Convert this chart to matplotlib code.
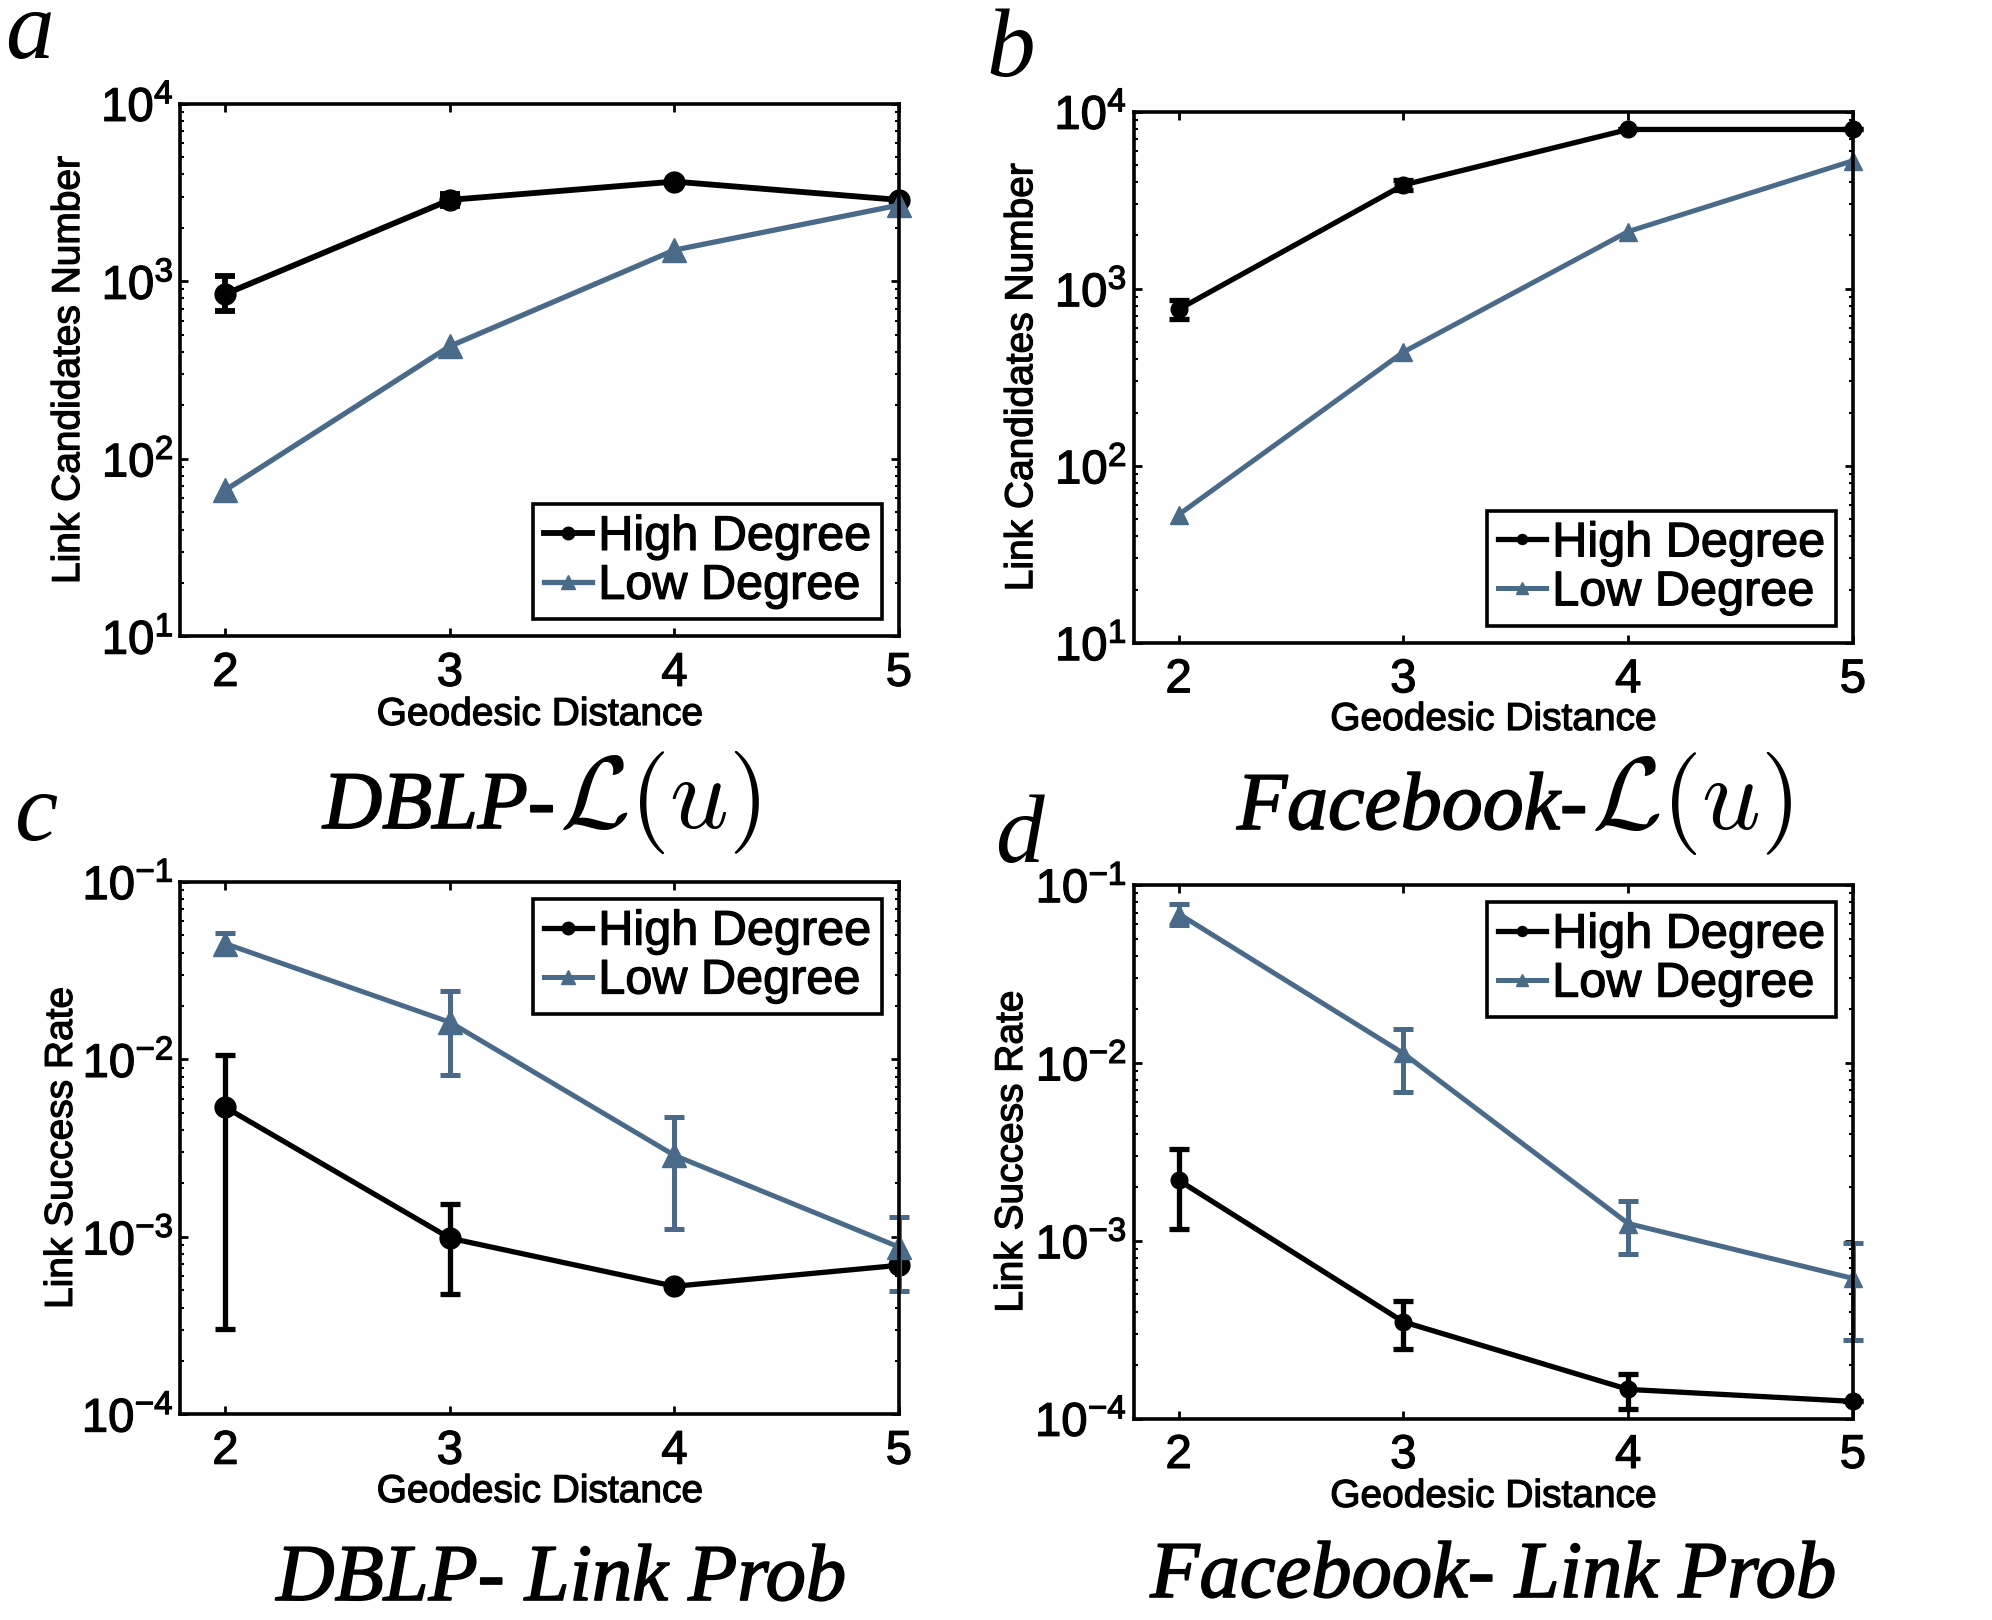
import numpy as np
import matplotlib
matplotlib.use("Agg")
import matplotlib.pyplot as plt
import matplotlib.patheffects as pe
from matplotlib.ticker import NullFormatter, LogLocator

plt.rcParams["font.family"] = ["Liberation Sans", "DejaVu Sans"]
plt.rcParams["mathtext.fontset"] = "cm"

BLUE = "#4a6a8a"
THICK = [pe.withStroke(linewidth=0.9, foreground="black")]

# Geodesic distance (x axis of all panels)
distance = [2, 3, 4, 5]

# a: DBLP link candidates number
dblp_cand_high = [848, 2873, 3642, 2873]
dblp_cand_high_lo = [678, 2650, 3642, 2873]
dblp_cand_high_hi = [1070, 3100, 3642, 2873]
dblp_cand_low = [66.8, 431, 1499, 2684]

# b: Facebook link candidates number
fb_cand_high = [765, 3853, 7930, 7930]
fb_cand_high_lo = [676, 3600, 7930, 7930]
fb_cand_high_hi = [867, 4100, 7930, 7930]
fb_cand_low = [53, 439, 2104, 5283]

# c: DBLP link success rate
dblp_prob_high = [0.00537, 0.000984, 0.000527, 0.000692]
dblp_prob_high_lo = [0.000302, 0.000476, 0.000527, 0.000692]
dblp_prob_high_hi = [0.01064, 0.00153, 0.000527, 0.000692]
dblp_prob_low = [0.0449, 0.0162, 0.00288, 0.000877]
dblp_prob_low_lo = [0.0392, 0.00822, 0.00111, 0.000499]
dblp_prob_low_hi = [0.0514, 0.0244, 0.00472, 0.00129]

# d: Facebook link success rate
fb_prob_high = [0.00219, 0.00035, 0.000146, 0.000125]
fb_prob_high_lo = [0.00117, 0.000246, 0.000113, 0.000125]
fb_prob_high_hi = [0.00327, 0.000459, 0.000179, 0.000125]
fb_prob_low = [0.0689, 0.0113, 0.00125, 0.000614]
fb_prob_low_lo = [0.0594, 0.00689, 0.000843, 0.000276]
fb_prob_low_hi = [0.0778, 0.0155, 0.00168, 0.000966]


def draw_series(ax, y, lo, hi, color, marker, ms, label, lw):
    y = np.array(y)
    if lo is not None:
        yerr = [y - np.array(lo), np.array(hi) - y]
        eb = ax.errorbar(distance, y, yerr=yerr, fmt="none", ecolor=color,
                         elinewidth=lw, capsize=7, capthick=lw)
        for part in eb.lines[1] + eb.lines[2]:
            part.set_clip_on(False)
    line, = ax.plot(distance, y, color=color, lw=lw, marker=marker, ms=ms,
                    label=label, clip_on=False)
    return line


def setup_axes(ax, ylim, ylabel, ylab_x, xlab_y, leg_loc):
    ax.set_yscale("log")
    ax.set_ylim(*ylim)
    ax.set_xlim(1.8, 5)
    ax.set_xticks(distance)
    ax.yaxis.set_minor_locator(LogLocator(base=10, subs=np.arange(2, 10)))
    ax.yaxis.set_minor_formatter(NullFormatter())
    ax.tick_params(which="both", direction="in", top=True, right=True,
                   labelsize=34, width=2)
    ax.tick_params(axis="x", which="major", length=6, pad=11)
    ax.tick_params(axis="y", which="major", length=6, pad=5)
    ax.tick_params(which="minor", length=3, width=1.5)
    for s in ax.spines.values():
        s.set_linewidth(2.6)
    ax.set_ylabel(ylabel, fontsize=28)
    ax.yaxis.set_label_coords(ylab_x, 0.5)
    ax.set_xlabel("Geodesic Distance", fontsize=28)
    ax.xaxis.set_label_coords(0.5, xlab_y)
    leg = ax.legend(loc=leg_loc, fontsize=35, frameon=True, fancybox=False,
                    edgecolor="black", framealpha=1, borderaxespad=0.35,
                    handlelength=1.0, handletextpad=0.12, labelspacing=0.08,
                    borderpad=0.22, markerscale=0.6)
    leg.get_frame().set_linewidth(2.6)
    texts = ax.get_xticklabels() + ax.get_yticklabels() + leg.get_texts()
    texts += [ax.xaxis.label, ax.yaxis.label]
    for t in texts:
        t.set_path_effects(THICK)


fig = plt.figure(figsize=(19.92, 16.2), dpi=100)

ax_a = fig.add_axes([0.0906, 0.6071, 0.3607, 0.3289])
ax_b = fig.add_axes([0.5691, 0.6031, 0.3611, 0.3280])
ax_c = fig.add_axes([0.0906, 0.1269, 0.3607, 0.3287])
ax_d = fig.add_axes([0.5691, 0.1243, 0.3611, 0.3294])

# panel a
draw_series(ax_a, dblp_cand_high, dblp_cand_high_lo, dblp_cand_high_hi,
            "black", "o", 15, "High Degree", 4.2)
draw_series(ax_a, dblp_cand_low, None, None, BLUE, "^", 17, "Low Degree", 3.8)
setup_axes(ax_a, (10, 1e4), "Link Candidates Number", -0.130, -0.1135, "lower right")

# panel b
draw_series(ax_b, fb_cand_high, fb_cand_high_lo, fb_cand_high_hi,
            "black", "o", 12, "High Degree", 3.8)
draw_series(ax_b, fb_cand_low, None, None, BLUE, "^", 13.5, "Low Degree", 3.6)
setup_axes(ax_b, (10, 1e4), "Link Candidates Number", -0.130, -0.111, "lower right")

# panel c
draw_series(ax_c, dblp_prob_high, dblp_prob_high_lo, dblp_prob_high_hi,
            "black", "o", 15, "High Degree", 3.8)
draw_series(ax_c, dblp_prob_low, dblp_prob_low_lo, dblp_prob_low_hi,
            BLUE, "^", 17, "Low Degree", 3.6)
setup_axes(ax_c, (1e-4, 1e-1), "Link Success Rate", -0.140, -0.112, "upper right")

# panel d
draw_series(ax_d, fb_prob_high, fb_prob_high_lo, fb_prob_high_hi,
            "black", "o", 12, "High Degree", 3.8)
draw_series(ax_d, fb_prob_low, fb_prob_low_lo, fb_prob_low_hi,
            BLUE, "^", 13.5, "Low Degree", 3.6)
setup_axes(ax_d, (1e-4, 1e-1), "Link Success Rate", -0.144, -0.113, "upper right")

# panel letters and titles (figure pixel coordinates converted to fractions)
W, H = 1992.0, 1620.0
serif = dict(family=["Liberation Serif", "DejaVu Serif"], style="italic")
for letter, px, py in [("a", 5, 58), ("b", 986, 76), ("c", 15, 840), ("d", 995, 862)]:
    fig.text(px / W, 1 - py / H, letter, fontsize=70, ha="left", va="baseline", **serif)

# top titles: text part and math part drawn side by side
top_titles = [("DBLP-", 323, 828), ("Facebook-", 1237, 829)]
for txt, left, by in top_titles:
    t = fig.text(left / W, 1 - by / H, txt, fontsize=59, ha="left", va="baseline",
                 path_effects=[pe.withStroke(linewidth=1.2, foreground="black")], **serif)
    fig.canvas.draw()
    bb = t.get_window_extent()
    fig.text(bb.x1 / W + 0.002, 1 - by / H, r"$\mathcal{L}(u)$", fontsize=74,
             ha="left", va="baseline")

bottom_titles = [("DBLP- Link Prob", 561, 1600), ("Facebook- Link Prob", 1493, 1597)]
for txt, cx, by in bottom_titles:
    fig.text(cx / W, 1 - by / H, txt, fontsize=58, ha="center", va="baseline",
             path_effects=[pe.withStroke(linewidth=1.2, foreground="black")], **serif)

fig.savefig("out.png", dpi=100)
